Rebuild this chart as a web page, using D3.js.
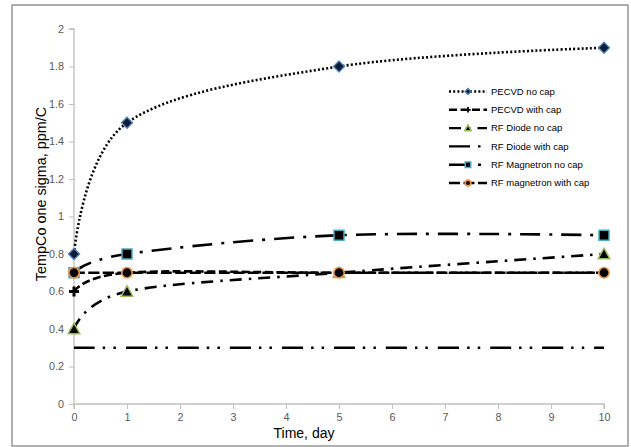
<!DOCTYPE html>
<html>
<head>
<meta charset="utf-8">
<script src="https://cdn.jsdelivr.net/npm/d3@7"></script>
<style>
  html, body { margin: 0; padding: 0; background: #fff; }
  svg { display: block; font-family: "Liberation Sans", Arial, sans-serif; }
</style>
</head>
<body>
<svg id="chart" width="631" height="447"></svg>
<script>
// ---- data ----
const days = [0, 1, 5, 10];
const seriesNames = ["PECVD no cap", "PECVD with cap", "RF Diode no cap", "RF Diode with cap", "RF Magnetron no cap", "RF magnetron with cap"];
const pecvdNoCap = [0.8, 1.5, 1.8, 1.9];
const pecvdWithCap = [0.6, 0.7, 0.7, 0.7];
const rfDiodeNoCap = [0.4, 0.6, 0.7, 0.8];
const rfDiodeWithCap = [0.3, 0.3, 0.3, 0.3];
const rfMagnetronNoCap = [0.7, 0.8, 0.9, 0.9];
const rfMagnetronWithCap = [0.7, 0.7, 0.7, 0.7];
const xTicks = [0, 1, 2, 3, 4, 5, 6, 7, 8, 9, 10];
const yTicks = [0, 0.2, 0.4, 0.6, 0.8, 1, 1.2, 1.4, 1.6, 1.8, 2];
const yTickLabels = ["0", "0.2", "0.4", "0.6", "0.8", "1", "1.2", "1.4", "1.6", "1.8", "2"];
const xTitle = "Time, day";
const yTitle = "TempCo one sigma, ppm/C";

// ---- styles ----
const styles = [
  { values: pecvdNoCap,        dash: "2,2.2",              marker: "diamond",  fill: "#0d1c36", edge: "#4f81bd" },
  { values: pecvdWithCap,      dash: "8,3.5",              marker: "plus",     fill: "#000",    edge: "#000" },
  { values: rfDiodeNoCap,      dash: "12,7,2.5,7",         marker: "triangle", fill: "#000",    edge: "#9bbb59" },
  { values: rfDiodeWithCap,    dash: "21,8,2.5,8,2.5,10",  marker: "none",     fill: "none",    edge: "none" },
  { values: rfMagnetronNoCap,  dash: "20,9,3,9",           marker: "square",   fill: "#000",    edge: "#4bacc6" },
  { values: rfMagnetronWithCap,dash: "11,3.5",             marker: "circle",   fill: "#000",    edge: "#f79646" }
];

const svg = d3.select("#chart");
const L = 74, R = 604, T = 29, B = 404;

// border
svg.append("rect").attr("x", 12).attr("y", 5).attr("width", 616).attr("height", 441)
  .attr("fill", "#fff").attr("stroke", "#868686").attr("stroke-width", 1.3);

const x = d3.scaleLinear().domain([0, 10]).range([L, R]);
const y = d3.scaleLinear().domain([0, 2]).range([B, T]);

// axes
const yAxis = d3.axisLeft(y).tickValues(yTicks).tickSize(5).tickPadding(5)
  .tickFormat((d, i) => yTickLabels[i]);
const xAxis = d3.axisBottom(x).tickValues(xTicks).tickSize(5).tickPadding(4)
  .tickFormat(d => String(d));

const gy = svg.append("g").attr("transform", `translate(${L},0)`).call(yAxis);
const gx = svg.append("g").attr("transform", `translate(0,${B})`).call(xAxis);
[gx, gy].forEach(g => {
  g.select(".domain").attr("stroke", "#bfbfbf").attr("stroke-width", 1.3);
  g.selectAll(".tick line").attr("stroke", "#bfbfbf").attr("stroke-width", 1);
  g.selectAll(".tick text").attr("fill", "#595959").attr("font-size", 10.8)
    .attr("font-family", "'Liberation Sans', Arial, sans-serif");
});
gy.select(".domain").attr("d", `M-5,${T}H0V${B}`);
gx.select(".domain").attr("d", `M${L},5V0H${R}V5`);

// titles
svg.append("text").attr("x", 304).attr("y", 437.5).attr("text-anchor", "middle")
  .attr("font-size", 14).attr("fill", "#000").text(xTitle);
svg.append("text").attr("transform", "translate(46,194) rotate(-90)").attr("text-anchor", "middle")
  .attr("font-size", 14.4).attr("fill", "#000").text(yTitle);

// markers
function drawMarker(g, type, cx, cy, fill, edge, scale) {
  const s = scale || 1;
  if (type === "diamond") {
    const r = 5.5 * s;
    g.append("path").attr("d", `M${cx},${cy - r}L${cx + r},${cy}L${cx},${cy + r}L${cx - r},${cy}Z`)
      .attr("fill", fill).attr("stroke", edge).attr("stroke-width", 1.3);
  } else if (type === "square") {
    const r = 5 * s;
    g.append("rect").attr("x", cx - r).attr("y", cy - r).attr("width", 2 * r).attr("height", 2 * r)
      .attr("fill", fill).attr("stroke", edge).attr("stroke-width", 1.5);
  } else if (type === "circle") {
    g.append("circle").attr("cx", cx).attr("cy", cy).attr("r", 5.2 * s)
      .attr("fill", fill).attr("stroke", edge).attr("stroke-width", 1.6);
  } else if (type === "triangle") {
    const r = 5.8 * s;
    g.append("path").attr("d", `M${cx},${cy - r}L${cx + r},${cy + r * 0.8}L${cx - r},${cy + r * 0.8}Z`)
      .attr("fill", fill).attr("stroke", edge).attr("stroke-width", 1.5);
  } else if (type === "plus") {
    const r = 5 * s;
    g.append("path").attr("d", `M${cx - r},${cy}H${cx + r}M${cx},${cy - r}V${cy + r}`)
      .attr("fill", "none").attr("stroke", fill).attr("stroke-width", 3 * Math.max(s, 0.6));
  }
}

const line = d3.line().x(d => x(d[0])).y(d => y(d[1])).curve(d3.curveCardinal.tension(0));

const plot = svg.append("g");
styles.forEach((st) => {
  const pts = days.map((d, j) => [d, st.values[j]]);
  plot.append("path").attr("d", line(pts)).attr("fill", "none")
    .attr("stroke", "#000").attr("stroke-width", 2.6)
    .attr("stroke-dasharray", st.dash);
  if (st.marker !== "none") {
    pts.forEach(p => drawMarker(plot, st.marker, x(p[0]), y(p[1]), st.fill, st.edge, 1));
  }
});

// legend
const legend = svg.append("g");
const legY0 = 91.5, legStep = 18.3;
seriesNames.forEach((name, i) => {
  const st = styles[i];
  const ly = legY0 + i * legStep;
  legend.append("line").attr("x1", 449).attr("x2", 487).attr("y1", ly).attr("y2", ly)
    .attr("stroke", "#000").attr("stroke-width", 2.4).attr("stroke-dasharray", st.dash);
  if (st.marker !== "none") drawMarker(legend, st.marker, 468, ly, st.fill, st.edge, 0.55);
  legend.append("text").attr("x", 491).attr("y", ly).attr("dy", "0.35em")
    .attr("font-size", 9.5).attr("fill", "#000").text(name);
});
</script>
</body>
</html>
